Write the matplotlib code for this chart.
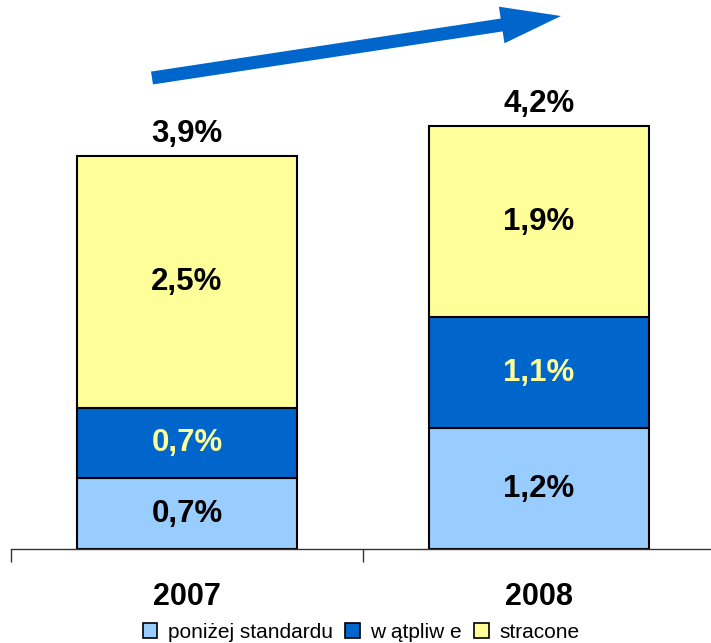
import numpy as np
import matplotlib.pyplot as plt
from matplotlib.patches import FancyArrow

plt.rcParams['font.family'] = ['Liberation Sans', 'DejaVu Sans']

# Values in percent
years = ['2007', '2008']
ponizej = [0.7, 1.2]
watpliwe = [0.7, 1.1]
stracone = [2.5, 1.9]
totals = [3.9, 4.2]
labels = ['poniżej standardu', 'w ątpliw e', 'stracone']

col_light = '#99CCFF'
col_dark = '#0066CC'
col_yellow = '#FFFF99'

W, H = 711, 643
fig = plt.figure(figsize=(W / 100, H / 100), dpi=100)
ax = fig.add_axes([11 / W, (H - 549) / H, 704 / W, 549 / H])

x = np.arange(len(years))
bw = 0.625
segs = [(ponizej, col_light, 'black'), (watpliwe, col_dark, col_yellow), (stracone, col_yellow, 'black')]
bottom = np.zeros(len(years))
handles = []
for (vals, fc, tc), lab in zip(segs, labels):
    bars = ax.bar(x, vals, bw, bottom=bottom, color=fc, edgecolor='black', linewidth=1.5, label=lab)
    handles.append(bars)
    for xi, v, b in zip(x, vals, bottom):
        ax.text(xi, b + v / 2, f'{v:.1f}%'.replace('.', ','), ha='center', va='center',
                fontsize=22.5, fontweight='bold', color=tc)
    bottom += np.array(vals)

for xi, t in zip(x, totals):
    ax.text(xi, t + 0.22, f'{t:.1f}%'.replace('.', ','), ha='center', va='center',
            fontsize=22.5, fontweight='bold', color='black')

ax.set_xlim(-0.5, 1.5)
ax.set_ylim(0, 5.45)
for s in ['top', 'right', 'left']:
    ax.spines[s].set_visible(False)
ax.spines['bottom'].set_color('#333333')
ax.spines['bottom'].set_linewidth(1)
ax.set_yticks([])
ax.set_xticks(x)
ax.set_xticklabels(years, fontsize=22, fontweight='bold')
ax.tick_params(axis='x', which='major', length=0, pad=24)
ax.set_xticks([-0.5, 0.5, 1.5], minor=True)
ax.tick_params(axis='x', which='minor', length=9, width=1, color='#333333', direction='out')

# trend arrow drawn in pixel space
ov = fig.add_axes([0, 0, 1, 1])
ov.set_xlim(0, W)
ov.set_ylim(H, 0)
ov.axis('off')
ov.patch.set_alpha(0)
ov.add_patch(FancyArrow(152, 78, 409, -62, width=13, head_width=37, head_length=60,
                        length_includes_head=True, color=col_dark, linewidth=0))

fig.legend(handles=handles, labels=labels, loc='center', bbox_to_anchor=(361 / W, 1 - 632 / H),
           ncol=3, frameon=False, fontsize=15, handlelength=0.7, handleheight=0.7,
           handletextpad=0.5, columnspacing=0.6, borderaxespad=0)
for h in fig.legends[0].legend_handles:
    h.set_linewidth(1.2)

fig.savefig('out.png', dpi=100)
